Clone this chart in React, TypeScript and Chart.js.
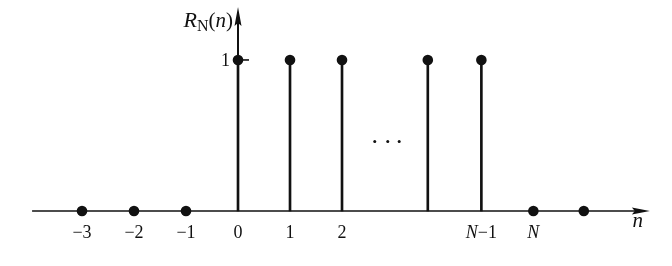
import React, { useEffect, useRef } from "react";
import { Chart, registerables } from "chart.js";

Chart.register(...registerables);

// ---- data ----
const stemPositions = [0, 1, 2, 3.65, 4.68];
const stemValues = [1, 1, 1, 1, 1];
const zeroPositions = [-3, -2, -1, 5.68, 6.65];
const zeroValues = [0, 0, 0, 0, 0];
const xTickPositions = [-3, -2, -1, 0, 1, 2, 4.68, 5.68];
const xTickLabels = ["−3", "−2", "−1", "0", "1", "2", "N−1", "N"];
const yTickPositions = [1];
const yTickLabels = ["1"];
const ellipsisX = [2.63, 2.88, 3.1];
const ellipsisY = [0.46, 0.46, 0.46];
const xAxisRange = [-3.96, 7.92];
const yAxisTop = 1.351;

const INK = "#111";
const SERIF = "'Liberation Serif', 'DejaVu Serif', serif";

function drawRichLabel(ctx: CanvasRenderingContext2D, label: string, cx: number, baseline: number, size: number) {
  const parts = label.split("").map((ch) => ({ ch, italic: ch === "N" }));
  let total = 0;
  const widths = parts.map((p) => {
    ctx.font = `${p.italic ? "italic " : ""}${size}px ${SERIF}`;
    const w = ctx.measureText(p.ch).width;
    total += w;
    return w;
  });
  let x = cx - total / 2;
  ctx.textAlign = "left";
  ctx.textBaseline = "alphabetic";
  parts.forEach((p, i) => {
    ctx.font = `${p.italic ? "italic " : ""}${size}px ${SERIF}`;
    ctx.fillText(p.ch, x, baseline);
    x += widths[i];
  });
}

const axesPlugin = {
  id: "mathAxes",
  beforeDatasetsDraw(chart: any) {
    const ctx: CanvasRenderingContext2D = chart.ctx;
    const xs = chart.scales.x;
    const ys = chart.scales.y;
    const y0 = ys.getPixelForValue(0);
    const x0 = xs.getPixelForValue(0);
    const xa = xs.getPixelForValue(xAxisRange[0]);
    const xb = xs.getPixelForValue(xAxisRange[1]);
    const yt = ys.getPixelForValue(yAxisTop);
    ctx.save();
    ctx.strokeStyle = INK;
    ctx.fillStyle = INK;
    ctx.lineWidth = 1.6;
    // x axis
    ctx.beginPath();
    ctx.moveTo(xa, y0);
    ctx.lineTo(xb - 10, y0);
    ctx.stroke();
    ctx.beginPath();
    ctx.moveTo(xb, y0);
    ctx.lineTo(xb - 18, y0 - 3.5);
    ctx.lineTo(xb - 15, y0);
    ctx.lineTo(xb - 18, y0 + 3.5);
    ctx.closePath();
    ctx.fill();
    // y axis
    ctx.lineWidth = 2;
    ctx.beginPath();
    ctx.moveTo(x0, y0);
    ctx.lineTo(x0, yt + 10);
    ctx.stroke();
    ctx.beginPath();
    ctx.moveTo(x0, yt);
    ctx.lineTo(x0 - 3.5, yt + 19);
    ctx.lineTo(x0, yt + 16);
    ctx.lineTo(x0 + 3.5, yt + 19);
    ctx.closePath();
    ctx.fill();
    // y ticks
    ctx.lineWidth = 1.6;
    yTickPositions.forEach((v, i) => {
      const py = ys.getPixelForValue(v);
      ctx.beginPath();
      ctx.moveTo(x0, py);
      ctx.lineTo(x0 + 11, py);
      ctx.stroke();
      ctx.font = `18px ${SERIF}`;
      ctx.textAlign = "right";
      ctx.textBaseline = "alphabetic";
      ctx.fillText(yTickLabels[i], x0 - 8, py + 6);
    });
    // x tick labels
    xTickPositions.forEach((v, i) => {
      drawRichLabel(ctx, xTickLabels[i], xs.getPixelForValue(v), y0 + 27, 18);
    });
    // axis name n
    ctx.font = `italic 21px ${SERIF}`;
    ctx.textAlign = "center";
    ctx.textBaseline = "alphabetic";
    ctx.fillText("n", xb - 12, y0 + 16);
    // y axis name R_N(n)
    const base = yt + 20;
    const pieces = [
      { t: "R", f: `italic 22px ${SERIF}`, dy: 0 },
      { t: "N", f: `16px ${SERIF}`, dy: 4 },
      { t: "(", f: `21px ${SERIF}`, dy: 0 },
      { t: "n", f: `italic 21px ${SERIF}`, dy: 0 },
      { t: ")", f: `21px ${SERIF}`, dy: 0 },
    ];
    let total = 0;
    const ws = pieces.map((p) => {
      ctx.font = p.f;
      const w = ctx.measureText(p.t).width;
      total += w;
      return w;
    });
    let x = x0 - 5 - total;
    ctx.textAlign = "left";
    pieces.forEach((p, i) => {
      ctx.font = p.f;
      ctx.fillText(p.t, x, base + p.dy);
      x += ws[i];
    });
    ctx.restore();
  },
};

export default function App() {
  const ref = useRef<HTMLCanvasElement>(null);
  useEffect(() => {
    document.body.style.margin = "0";
    const canvas = ref.current!;
    const chart = new Chart(canvas, {
      type: "scatter",
      data: {
        datasets: [
          {
            type: "bar",
            data: stemPositions.map((x, i) => ({ x, y: stemValues[i] })),
            backgroundColor: INK,
            barThickness: 2,
            order: 3,
          } as any,
          {
            type: "scatter",
            data: [
              ...stemPositions.map((x, i) => ({ x, y: stemValues[i] })),
              ...zeroPositions.map((x, i) => ({ x, y: zeroValues[i] })),
            ],
            pointRadius: 5.3,
            pointBackgroundColor: INK,
            pointBorderColor: INK,
            pointBorderWidth: 0,
            order: 1,
          },
          {
            type: "scatter",
            data: ellipsisX.map((x, i) => ({ x, y: ellipsisY[i] })),
            pointRadius: 1.5,
            pointBackgroundColor: INK,
            pointBorderWidth: 0,
            order: 2,
          },
        ],
      },
      options: {
        animation: false,
        responsive: false,
        devicePixelRatio: 1,
        layout: { padding: 0, autoPadding: false },
        plugins: { legend: { display: false }, tooltip: { enabled: false } },
        events: [],
        scales: {
          x: { type: "linear", display: false, offset: false, min: -4.577, max: 8.346 },
          y: { type: "linear", display: false, offset: false, min: -0.364, max: 1.397 },
        },
      },
      plugins: [axesPlugin],
    });
    return () => chart.destroy();
  }, []);
  return (
    <div style={{ position: "absolute", left: 0, top: 0, width: 672, height: 266, background: "#fff" }}>
      <canvas ref={ref} width={672} height={266} />
    </div>
  );
}
